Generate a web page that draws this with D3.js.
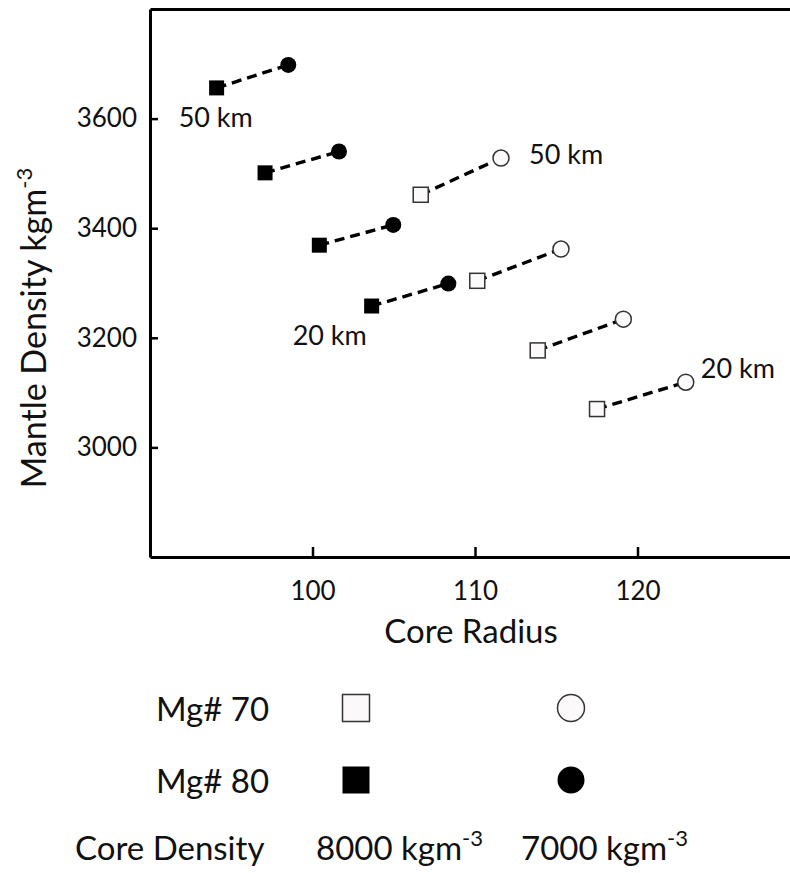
<!DOCTYPE html>
<html>
<head>
<meta charset="utf-8">
<script src="https://cdn.jsdelivr.net/npm/d3@7"></script>
<style>
  body { margin: 0; background: #fff; }
  svg { display: block; font-family: Lato, "Open Sans", sans-serif; }
</style>
</head>
<body>
<svg id="chart" width="790" height="873"></svg>
<script>
// Mantle density vs core radius for four crustal thicknesses (50 km ... 20 km).
// Squares: core density 8000 kg/m3, circles: core density 7000 kg/m3.
const mg80SquareRadius  = [94.10, 97.08, 100.42, 103.64];
const mg80SquareDensity = [3656, 3501, 3369, 3258];
const mg80CircleRadius  = [98.51, 101.63, 104.97, 108.36];
const mg80CircleDensity = [3698, 3540, 3406, 3299];

const mg70SquareRadius  = [106.66, 110.14, 113.86, 117.51];
const mg70SquareDensity = [3461, 3304, 3177, 3070];
const mg70CircleRadius  = [111.60, 115.29, 119.13, 122.97];
const mg70CircleDensity = [3528, 3362, 3234, 3119];

const xTicks = [100, 110, 120];
const yTicks = [3000, 3200, 3400, 3600];

const svg = d3.select("#chart");

const x = d3.scaleLinear().domain([90, 130]).range([150, 800]);
const y = d3.scaleLinear().domain([2800, 3800]).range([557, 9]);

// ---- frame and axes (ticks point inward) ----
const axisStyle = g => {
  g.select(".domain").attr("stroke", "#000").attr("stroke-width", 3);
  g.selectAll(".tick line").attr("stroke", "#000").attr("stroke-width", 2.5);
  g.selectAll(".tick text").attr("fill", "#111").attr("font-size", 26).attr("font-family", "Lato, sans-serif");
};

svg.append("g")
  .attr("transform", `translate(0,${y(2800)})`)
  .call(d3.axisBottom(x).tickValues(xTicks).tickFormat(d3.format("d"))
    .tickSize(-10).tickSizeOuter(0).tickPadding(25))
  .call(axisStyle);

svg.append("g")
  .attr("transform", `translate(0,${y(3800)})`)
  .call(d3.axisTop(x).tickValues([]).tickSizeOuter(0))
  .call(axisStyle);

svg.append("g")
  .attr("transform", `translate(${x(90)},0)`)
  .call(d3.axisLeft(y).tickValues(yTicks).tickFormat(d3.format("d"))
    .tickSize(-8).tickSizeOuter(0).tickPadding(13))
  .call(axisStyle);

// ---- axis titles ----
svg.append("text")
  .attr("x", 471).attr("y", 643)
  .attr("text-anchor", "middle")
  .attr("font-size", 33).attr("fill", "#111")
  .text("Core Radius");

const yTitle = svg.append("text")
  .attr("transform", "translate(46,328) rotate(-90)")
  .attr("text-anchor", "middle")
  .attr("font-size", 34).attr("fill", "#111");
yTitle.append("tspan").text("Mantle Density kgm");
yTitle.append("tspan").attr("font-size", 22).attr("dy", -14).text("-3");

// ---- paired model results ----
const pairs = (sx, sy, cx, cy) => sx.map((v, i) => ({ sx: v, sy: sy[i], cx: cx[i], cy: cy[i] }));
const mg80 = pairs(mg80SquareRadius, mg80SquareDensity, mg80CircleRadius, mg80CircleDensity);
const mg70 = pairs(mg70SquareRadius, mg70SquareDensity, mg70CircleRadius, mg70CircleDensity);

const plot = svg.append("g");
const openFill = "#fbf9f9", openStroke = "#333";

function drawSeries(data, filled) {
  const g = plot.append("g");
  g.selectAll("line").data(data).join("line")
    .attr("x1", d => x(d.sx)).attr("y1", d => y(d.sy))
    .attr("x2", d => x(d.cx)).attr("y2", d => y(d.cy))
    .attr("stroke", "#000").attr("stroke-width", 3.4)
    .attr("stroke-dasharray", "10,6");
  const side = 15;
  g.selectAll("rect").data(data).join("rect")
    .attr("x", d => x(d.sx) - side / 2).attr("y", d => y(d.sy) - side / 2)
    .attr("width", side).attr("height", side)
    .attr("fill", filled ? "#000" : openFill)
    .attr("stroke", filled ? "none" : openStroke).attr("stroke-width", 1.5);
  g.selectAll("circle").data(data).join("circle")
    .attr("cx", d => x(d.cx)).attr("cy", d => y(d.cy))
    .attr("r", 8)
    .attr("fill", filled ? "#000" : openFill)
    .attr("stroke", filled ? "none" : openStroke).attr("stroke-width", 1.5);
}
drawSeries(mg80, true);
drawSeries(mg70, false);

// ---- crustal thickness annotations ----
const note = (px, py, txt) => svg.append("text")
  .attr("x", px).attr("y", py).attr("font-size", 27).attr("fill", "#111").text(txt);
note(x(mg80[0].sx) - 38, y(mg80[0].sy) + 39, "50 km");
note(x(mg80[3].sx) - 79, y(mg80[3].sy) + 39, "20 km");
note(x(mg70[0].cx) + 28, y(mg70[0].cy) + 6, "50 km");
note(x(mg70[3].cx) + 15, y(mg70[3].cy) - 4, "20 km");

// ---- legend ----
const legend = svg.append("g");
const legText = (px, py, txt) => legend.append("text")
  .attr("x", px).attr("y", py).attr("font-size", 33).attr("fill", "#111").text(txt);
legText(156, 721, "Mg# 70");
legText(156, 793, "Mg# 80");
legText(75, 860, "Core Density");

const unit = (px, txt) => {
  const t = legend.append("text").attr("x", px).attr("y", 860).attr("font-size", 33).attr("fill", "#111");
  t.append("tspan").text(txt);
  t.append("tspan").attr("font-size", 22).attr("dy", -14).text("-3");
};
unit(316, "8000 kgm");
unit(521, "7000 kgm");

const ls = 27;
legend.append("rect").attr("x", 356 - ls / 2).attr("y", 708 - ls / 2).attr("width", ls).attr("height", ls)
  .attr("fill", openFill).attr("stroke", openStroke).attr("stroke-width", 1.5);
legend.append("circle").attr("cx", 571).attr("cy", 708).attr("r", ls / 2)
  .attr("fill", openFill).attr("stroke", openStroke).attr("stroke-width", 1.5);
legend.append("rect").attr("x", 356 - ls / 2).attr("y", 780 - ls / 2).attr("width", ls).attr("height", ls)
  .attr("fill", "#000");
legend.append("circle").attr("cx", 571).attr("cy", 780).attr("r", ls / 2).attr("fill", "#000");
</script>
</body>
</html>
